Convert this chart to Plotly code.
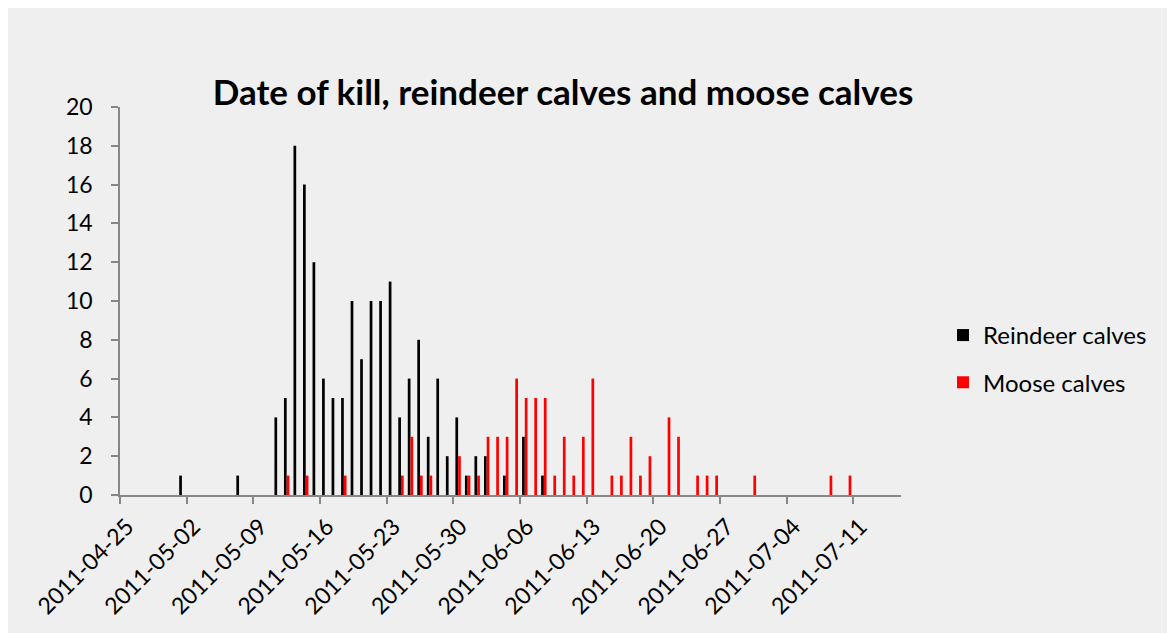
import plotly.graph_objects as go

# ---- data ----
reindeer_dates = ["2011-05-01", "2011-05-07", "2011-05-11", "2011-05-12", "2011-05-13",
                  "2011-05-14", "2011-05-15", "2011-05-16", "2011-05-17", "2011-05-18",
                  "2011-05-19", "2011-05-20", "2011-05-21", "2011-05-22", "2011-05-23",
                  "2011-05-24", "2011-05-25", "2011-05-26", "2011-05-27", "2011-05-28",
                  "2011-05-29", "2011-05-30", "2011-05-31", "2011-06-01", "2011-06-02",
                  "2011-06-04", "2011-06-06", "2011-06-08"]
reindeer_counts = [1, 1, 4, 5, 18,
                   16, 12, 6, 5, 5,
                   10, 7, 10, 10, 11,
                   4, 6, 8, 3, 6,
                   2, 4, 1, 2, 2,
                   1, 3, 1]

moose_dates = ["2011-05-12", "2011-05-14", "2011-05-18", "2011-05-24", "2011-05-25",
               "2011-05-26", "2011-05-27", "2011-05-30", "2011-05-31", "2011-06-01",
               "2011-06-02", "2011-06-03", "2011-06-04", "2011-06-05", "2011-06-06",
               "2011-06-07", "2011-06-08", "2011-06-09", "2011-06-10", "2011-06-11",
               "2011-06-12", "2011-06-13", "2011-06-15", "2011-06-16", "2011-06-17",
               "2011-06-18", "2011-06-19", "2011-06-21", "2011-06-22", "2011-06-24",
               "2011-06-25", "2011-06-26", "2011-06-30", "2011-07-08", "2011-07-10"]
moose_counts = [1, 1, 1, 1, 3,
                1, 1, 2, 1, 1,
                3, 3, 3, 6, 5,
                5, 5, 1, 3, 1,
                3, 6, 1, 1, 3,
                1, 2, 4, 3, 1,
                1, 1, 1, 1, 1]

x_range = ["2011-04-25", "2011-07-16"]
y_range = [0, 20]

# ---- figure ----
# the page adds an 8px body margin; figure coordinates below are page - 8
W, H = 1175, 625
L, T = 112, 98.5
pw, ph = 781, 389
R, B = W - L - pw, H - T - ph

FONT = "Lato, 'Open Sans', sans-serif"
AXIS_COL = "#878787"
BG = "#efefef"

DAY = 86400000

fig = go.Figure()
fig.add_trace(go.Bar(
    x=reindeer_dates, y=reindeer_counts, name="Reindeer calves",
    marker=dict(color="#000000", line=dict(width=0)),
    xperiod=DAY, xperiodalignment="middle", legendgroup="r",
))
fig.add_trace(go.Bar(
    x=moose_dates, y=moose_counts, name="Moose calves",
    marker=dict(color="#ff0000", line=dict(width=0)),
    xperiod=DAY, xperiodalignment="middle", legendgroup="m",
))

def px_to_paper_x(p):
    return (p - L) / pw

def px_to_paper_y(p):
    return (T + ph - p) / ph

fig.update_layout(
    width=W, height=H,
    margin=dict(l=L, r=R, t=T, b=B, pad=0, autoexpand=False),
    paper_bgcolor=BG,
    plot_bgcolor=BG,
    barmode="group",
    bargap=0.43,
    bargroupgap=0,
    font=dict(family=FONT, size=23, color="#000000"),
    title=dict(
        text="<b>Date of kill, reindeer calves and moose calves</b>",
        font=dict(family=FONT, size=35, color="#000000"),
        x=px_to_paper_x(555), xref="paper", xanchor="center",
        y=1 - 84.5 / H, yref="container", yanchor="middle",
    ),
    legend=dict(
        x=px_to_paper_x(935), xanchor="left",
        y=px_to_paper_y(305), yanchor="top",
        bgcolor="rgba(0,0,0,0)",
        font=dict(family=FONT, size=24, color="#000000"),
        traceorder="grouped",
        tracegroupgap=13,
    ),
    showlegend=True,
)

fig.update_xaxes(
    type="date",
    range=x_range,
    tick0="2011-04-25", dtick=7 * DAY,
    tickformat="%Y-%m-%d",
    tickangle=-45,
    ticks="outside", ticklen=7, tickwidth=1.5, tickcolor=AXIS_COL,
    showline=True, linecolor=AXIS_COL, linewidth=2,
    showgrid=False, zeroline=False,
    ticklabelstandoff=0, ticklabelshift=7,
    automargin=False,
    tickfont=dict(family=FONT, size=23, color="#000000"),
)
fig.update_yaxes(
    range=y_range, dtick=2,
    ticks="outside", ticklen=7, tickwidth=1.5, tickcolor=AXIS_COL,
    showline=True, linecolor=AXIS_COL, linewidth=1.5,
    showgrid=False, zeroline=False,
    ticklabelstandoff=14,
    automargin=False,
    tickfont=dict(family=FONT, size=23, color="#000000"),
)

fig.write_html("out.html")
